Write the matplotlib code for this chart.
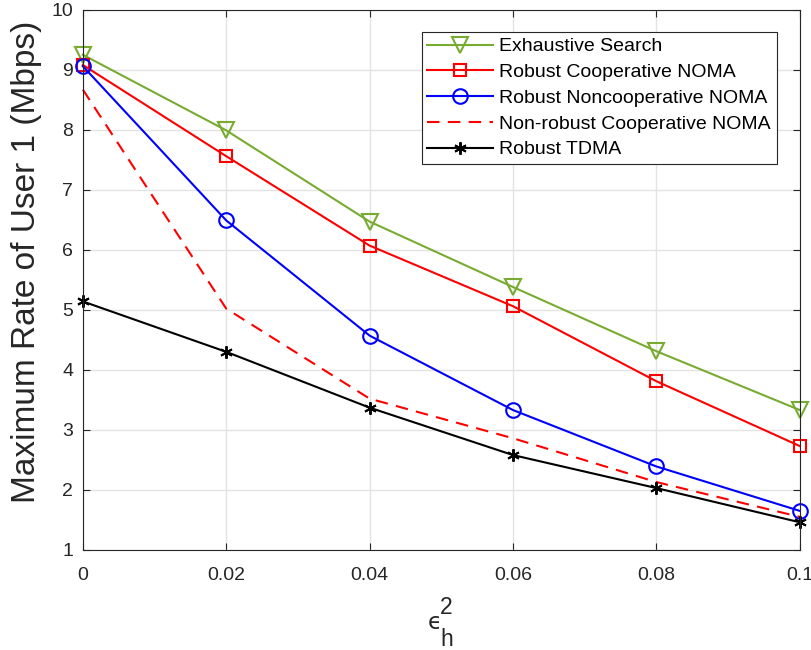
import numpy as np
import matplotlib
matplotlib.use("Agg")
import matplotlib.pyplot as plt

plt.rcParams['font.family'] = ['Liberation Sans', 'DejaVu Sans']

# data
eps2 = [0, 0.02, 0.04, 0.06, 0.08, 0.1]
exhaustive = [9.25, 7.99, 6.47, 5.38, 4.31, 3.33]
robust_coop = [9.08, 7.56, 6.07, 5.06, 3.81, 2.73]
robust_noncoop = [9.06, 6.49, 4.57, 3.33, 2.39, 1.65]
nonrobust_coop = [8.67, 5.02, 3.52, 2.86, 2.13, 1.55]
robust_tdma = [5.14, 4.30, 3.37, 2.58, 2.03, 1.46]

green = '#77AC30'
dark = '#262626'

fig = plt.figure(figsize=(8.12, 6.5), dpi=100)
ax = fig.add_axes([0.102, 0.154, 0.883, 0.831])

ax.plot(eps2, exhaustive, color=green, lw=1.5, marker='v', ms=11,
        mfc='none', mew=1.5, clip_on=False, label='Exhaustive Search')
ax.plot(eps2, robust_coop, color='r', lw=1.5, marker='s', ms=9,
        mfc='none', mew=1.5, clip_on=False, label='Robust Cooperative NOMA')
ax.plot(eps2, robust_noncoop, color='b', lw=1.5, marker='o', ms=10.5,
        mfc='none', mew=1.5, clip_on=False, label='Robust Noncooperative NOMA')
ax.plot(eps2, nonrobust_coop, color='r', lw=1.5, ls=(0, (6, 4)),
        clip_on=False, label='Non-robust Cooperative NOMA')
ax.plot(eps2, robust_tdma, color='k', lw=1.5, marker=(6, 2, 0), ms=9,
        mew=1.4, clip_on=False, label='Robust TDMA')

ax.set_xlim(0, 0.1)
ax.set_ylim(1, 10)
ax.set_xticks(eps2)
ax.set_xticklabels(['0', '0.02', '0.04', '0.06', '0.08', '0.1'])
ax.set_yticks(range(1, 11))
ax.grid(True, color='#e3e3e3', lw=1.0)
ax.set_axisbelow(True)
ax.tick_params(direction='in', top=True, right=True, labelsize=14,
               colors=dark, length=5)
ax.tick_params(axis='x', pad=12)
ax.tick_params(axis='y', pad=7)
for s in ax.spines.values():
    s.set_color(dark)
    s.set_linewidth(0.8)

ax.set_ylabel('Maximum Rate of User 1 (Mbps)', fontsize=24, color=dark)
ax.yaxis.set_label_coords(-0.057, 0.533)

# x label: epsilon with subscript h and superscript 2, placed by hand
fig.text(428 / 812, 1 - 629 / 650, '\u03f5', fontsize=16.5, color=dark,
         family=['DejaVu Sans'], ha='left', va='baseline')
fig.text(440 / 812, 1 - 614 / 650, '2', fontsize=16.5, color=dark,
         ha='left', va='baseline')
fig.text(440 / 812, 1 - 645.5 / 650, 'h', fontsize=16.5, color=dark,
         ha='left', va='baseline')

leg = ax.legend(loc='upper right', bbox_to_anchor=(0.968, 0.959), fontsize=14,
                handlelength=3.35, fancybox=False, framealpha=1,
                edgecolor=dark, borderpad=0.3, labelspacing=0.42,
                handletextpad=0.35, borderaxespad=0)
leg.get_frame().set_linewidth(0.8)

fig.savefig('out.png', dpi=100)
